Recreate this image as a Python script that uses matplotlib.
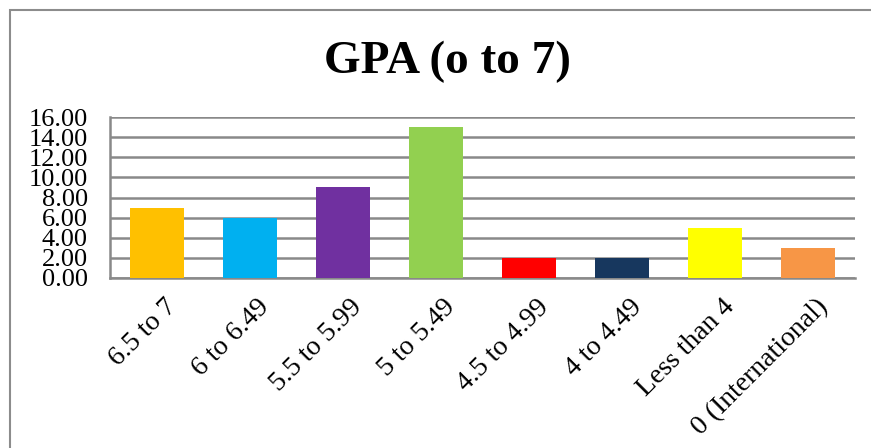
import matplotlib
matplotlib.use("Agg")
import matplotlib.pyplot as plt
from matplotlib.patches import Rectangle
from matplotlib.transforms import ScaledTranslation

categories = ["6.5 to 7", "6 to 6.49", "5.5 to 5.99", "5 to 5.49", "4.5 to 4.99",
              "4 to 4.49", "Less than 4", "0 (International)"]
values = [7, 6, 9, 15, 2, 2, 5, 3]
colors = ["#FFC000", "#00B0F0", "#7030A0", "#92D050", "#FF0000", "#17375E", "#FFFF00", "#F79646"]
yticks = [0, 2, 4, 6, 8, 10, 12, 14, 16]

plt.rcParams['font.family'] = ['Liberation Serif', 'DejaVu Serif']

W, H = 871, 448
fig = plt.figure(figsize=(W/100, H/100), dpi=100)
fig.patches.append(Rectangle((10/W, -0.1), 1.0, 1 - 10/H + 0.1, transform=fig.transFigure,
                             fill=False, edgecolor="#8C8C8C", linewidth=1.5))

left, right, top, bottom = 110, 855, 117, 278
ax = fig.add_axes([left/W, 1-bottom/H, (right-left)/W, (bottom-top)/H])
x = list(range(len(categories)))
ax.bar(x, values, width=0.58, color=colors, zorder=3)
ax.set_xlim(-0.5, len(categories)-0.5)
ax.set_ylim(0, 16)
ax.set_yticks(yticks)
ax.set_yticklabels([f"{v:.2f}" for v in yticks], fontsize=19)
ax.yaxis.grid(True, color="#898989", linewidth=1.8, zorder=0)
ax.set_xticks(x)
ax.set_xticklabels(categories, rotation=45, ha="right", va="top", rotation_mode="anchor", fontsize=20)
ax.tick_params(axis="both", length=0)
ax.tick_params(axis="x", pad=12)
ax.tick_params(axis="y", pad=16)
off = ScaledTranslation(7/100, 0, fig.dpi_scale_trans)
for lab in ax.get_xticklabels():
    lab.set_transform(lab.get_transform() + off)
for s in ["top", "right"]:
    ax.spines[s].set_visible(False)
ax.spines["left"].set_color("#898989")
ax.spines["left"].set_linewidth(1.8)
ax.spines["bottom"].set_color("#898989")
ax.spines["bottom"].set_linewidth(1.8)

fig.text(447/W, 1-62/H, "GPA (o to 7)", ha="center", va="center", fontsize=34, fontweight="bold")

fig.savefig("out.png", dpi=100)
